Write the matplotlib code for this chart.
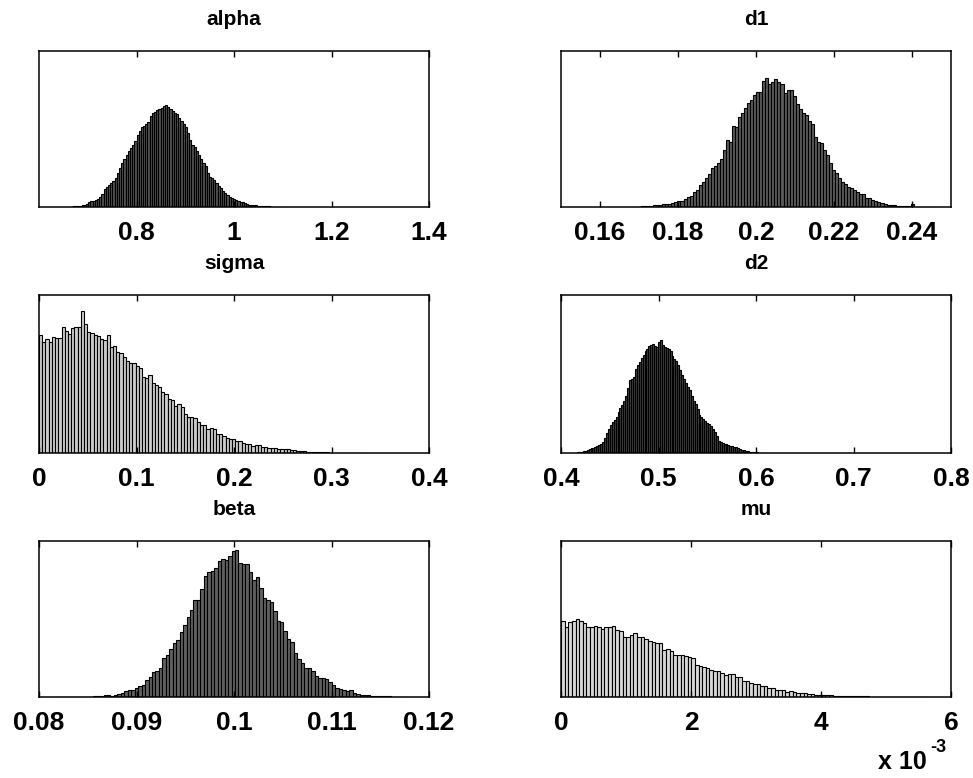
import numpy as np
import matplotlib
matplotlib.use('Agg')
import matplotlib.pyplot as plt

# bar heights, as a fraction of the axes height (100 bins each)
alpha_h = [0.002, 0.004, 0.006, 0.007, 0.009, 0.011, 0.013, 0.02, 0.03, 0.036,
           0.038, 0.043, 0.05, 0.065, 0.085, 0.115, 0.128, 0.14, 0.157, 0.17,
           0.185, 0.22, 0.25, 0.285, 0.305, 0.335, 0.36, 0.38, 0.40, 0.425,
           0.46, 0.49, 0.512, 0.52, 0.53, 0.545, 0.585, 0.604, 0.61, 0.62,
           0.628, 0.633, 0.645, 0.655, 0.642, 0.628, 0.616, 0.605, 0.595, 0.57,
           0.552, 0.535, 0.51, 0.475, 0.43, 0.398, 0.382, 0.36, 0.335, 0.307,
           0.285, 0.265, 0.215, 0.195, 0.183, 0.172, 0.155, 0.137, 0.12, 0.10,
           0.087, 0.076, 0.066, 0.056, 0.051, 0.046, 0.04, 0.035, 0.03, 0.024,
           0.019, 0.016, 0.014, 0.012, 0.01, 0.009, 0.007, 0.006, 0.005, 0.004,
           0.004, 0.003, 0.003, 0.002, 0.002, 0.002, 0.001, 0.001, 0.001, 0.001]
alpha_range = (0.665, 1.115)

d1_h = [0.001, 0.002, 0.002, 0.004, 0.008, 0.008, 0.009, 0.01, 0.013, 0.016,
        0.017, 0.019, 0.02, 0.027, 0.033, 0.04, 0.04, 0.052, 0.062, 0.07,
        0.097, 0.11, 0.141, 0.162, 0.185, 0.21, 0.248, 0.26, 0.28, 0.308,
        0.365, 0.43, 0.42, 0.519, 0.515, 0.575, 0.60, 0.635, 0.664, 0.686,
        0.72, 0.74, 0.74, 0.808, 0.825, 0.79, 0.80, 0.818, 0.80, 0.79,
        0.73, 0.75, 0.75, 0.71, 0.66, 0.63, 0.60, 0.59, 0.55, 0.53,
        0.45, 0.42, 0.41, 0.365, 0.333, 0.28, 0.237, 0.216, 0.184, 0.162,
        0.15, 0.13, 0.12, 0.11, 0.098, 0.081, 0.081, 0.06, 0.056, 0.045,
        0.036, 0.03, 0.024, 0.019, 0.015, 0.011, 0.01, 0.009, 0.008, 0.006,
        0.005, 0.004, 0.02, 0.003, 0.002, 0.002, 0.001, 0.001, 0.001, 0.001]
d1_range = (0.1682, 0.2459)

sigma_h = [0.746, 0.704, 0.72, 0.70, 0.736, 0.73, 0.73, 0.80, 0.77, 0.753,
           0.79, 0.795, 0.80, 0.90, 0.816, 0.764, 0.76, 0.75, 0.74, 0.72,
           0.715, 0.747, 0.673, 0.677, 0.641, 0.63, 0.61, 0.584, 0.571, 0.567,
           0.55, 0.536, 0.483, 0.473, 0.494, 0.441, 0.43, 0.42, 0.388, 0.373,
           0.342, 0.335, 0.297, 0.31, 0.293, 0.247, 0.23, 0.23, 0.22, 0.194,
           0.177, 0.175, 0.152, 0.16, 0.152, 0.12, 0.12, 0.108, 0.093, 0.087,
           0.09, 0.076, 0.076, 0.061, 0.055, 0.055, 0.046, 0.05, 0.05, 0.04,
           0.036, 0.034, 0.032, 0.03, 0.027, 0.027, 0.025, 0.025, 0.019, 0.017,
           0.013, 0.011, 0.010, 0.008, 0.007, 0.006, 0.006, 0.005, 0.004, 0.004,
           0.003, 0.003, 0.002, 0.002, 0.002, 0.001, 0.001, 0.001, 0.001, 0.001]
sigma_range = (0.0, 0.33)

d2_h = [0.003, 0.004, 0.005, 0.007, 0.010, 0.014, 0.018, 0.024, 0.029, 0.034,
        0.039, 0.045, 0.051, 0.06, 0.069, 0.095, 0.125, 0.155, 0.175, 0.195,
        0.212, 0.231, 0.26, 0.284, 0.305, 0.33, 0.36, 0.41, 0.46, 0.47,
        0.48, 0.53, 0.555, 0.574, 0.60, 0.62, 0.645, 0.66, 0.675, 0.683,
        0.688, 0.678, 0.668, 0.70, 0.713, 0.685, 0.672, 0.666, 0.657, 0.645,
        0.615, 0.597, 0.584, 0.56, 0.525, 0.495, 0.47, 0.445, 0.42, 0.397,
        0.36, 0.33, 0.31, 0.28, 0.242, 0.228, 0.216, 0.203, 0.192, 0.183,
        0.17, 0.155, 0.13, 0.105, 0.078, 0.068, 0.063, 0.059, 0.055, 0.051,
        0.047, 0.043, 0.039, 0.035, 0.031, 0.027, 0.022, 0.018, 0.015, 0.012,
        0.009, 0.007, 0.005, 0.004, 0.004, 0.003, 0.003, 0.002, 0.002, 0.001]
d2_range = (0.4144, 0.6123)

beta_h = [0.001, 0.001, 0.001, 0.001, 0.002, 0.002, 0.002, 0.002, 0.003, 0.003,
          0.004, 0.004, 0.006, 0.01, 0.012, 0.009, 0.015, 0.02, 0.027, 0.038,
          0.043, 0.048, 0.055, 0.072, 0.08, 0.11, 0.13, 0.16, 0.165, 0.184,
          0.25, 0.272, 0.31, 0.348, 0.365, 0.415, 0.46, 0.51, 0.56, 0.62,
          0.62, 0.69, 0.775, 0.80, 0.81, 0.825, 0.87, 0.882, 0.88, 0.905,
          0.938, 0.945, 0.86, 0.853, 0.85, 0.80, 0.75, 0.77, 0.697, 0.632,
          0.62, 0.612, 0.55, 0.49, 0.478, 0.42, 0.37, 0.35, 0.285, 0.246,
          0.215, 0.184, 0.186, 0.165, 0.134, 0.124, 0.12, 0.115, 0.098, 0.078,
          0.058, 0.053, 0.047, 0.037, 0.045, 0.028, 0.019, 0.015, 0.012, 0.011,
          0.009, 0.007, 0.005, 0.006, 0.009, 0.004, 0.003, 0.002, 0.002, 0.001]
beta_range = (0.0820, 0.1175)

mu_h = [0.487, 0.447, 0.483, 0.49, 0.50, 0.485, 0.472, 0.45, 0.45, 0.453,
        0.449, 0.438, 0.447, 0.45, 0.455, 0.43, 0.423, 0.387, 0.387, 0.40,
        0.41, 0.382, 0.382, 0.37, 0.362, 0.355, 0.344, 0.344, 0.30, 0.306,
        0.297, 0.269, 0.269, 0.269, 0.265, 0.258, 0.25, 0.205, 0.199, 0.194,
        0.184, 0.173, 0.169, 0.169, 0.152, 0.141, 0.147, 0.147, 0.13, 0.126,
        0.105, 0.103, 0.092, 0.083, 0.081, 0.07, 0.07, 0.06, 0.056, 0.047,
        0.045, 0.045, 0.034, 0.038, 0.034, 0.028, 0.028, 0.024, 0.019, 0.017,
        0.015, 0.013, 0.012, 0.011, 0.01, 0.009, 0.008, 0.007, 0.006, 0.006,
        0.005, 0.005, 0.004, 0.004, 0.004, 0.003, 0.003, 0.003, 0.003, 0.002,
        0.002, 0.002, 0.002, 0.002, 0.002, 0.001, 0.001, 0.001, 0.001, 0.001]
mu_range = (0.0, 0.00557)

titles = ['alpha', 'd1', 'sigma', 'd2', 'beta', 'mu']
heights = [alpha_h, d1_h, sigma_h, d2_h, beta_h, mu_h]
ranges = [alpha_range, d1_range, sigma_range, d2_range, beta_range, mu_range]
xlims = [(0.6, 1.4), (0.15, 0.25), (0, 0.4), (0.4, 0.8), (0.08, 0.12), (0, 0.006)]
xticks = [[0.8, 1.0, 1.2, 1.4],
          [0.16, 0.18, 0.20, 0.22, 0.24],
          [0, 0.1, 0.2, 0.3, 0.4],
          [0.4, 0.5, 0.6, 0.7, 0.8],
          [0.08, 0.09, 0.10, 0.11, 0.12],
          [0, 0.002, 0.004, 0.006]]
xticklabels = [['0.8', '1', '1.2', '1.4'],
               ['0.16', '0.18', '0.2', '0.22', '0.24'],
               ['0', '0.1', '0.2', '0.3', '0.4'],
               ['0.4', '0.5', '0.6', '0.7', '0.8'],
               ['0.08', '0.09', '0.1', '0.11', '0.12'],
               ['0', '2', '4', '6']]
# bar fill per panel, so the dense panels come out as dark as in the original
face = ['#505050', '#5a5a5a', '#cccccc', '#404040', '#606060', '#d8d8d8']

plt.rcParams['font.family'] = ['Liberation Sans', 'DejaVu Sans']
plt.rcParams['font.weight'] = 'bold'

fig = plt.figure(figsize=(9.73, 7.78), dpi=100)

# axes boxes in figure fractions (left, bottom, width, height)
col_x = [0.0401, 0.5766]
row_y = [(0.7339, 0.2005), (0.4177, 0.2031), (0.1041, 0.2005)]

for k in range(6):
    r, c = divmod(k, 2)
    ax = fig.add_axes([col_x[c], row_y[r][0], 0.4008, row_y[r][1]])
    h = np.array(heights[k])
    edges = np.linspace(ranges[k][0], ranges[k][1], len(h) + 1)
    ax.bar(edges[:-1], h, width=np.diff(edges), align='edge',
           facecolor=face[k], edgecolor='black', linewidth=0.8)
    ax.set_xlim(*xlims[k])
    ax.set_ylim(0, 1)
    ax.set_yticks([])
    ax.set_xticks(xticks[k])
    ax.set_xticklabels(xticklabels[k], fontsize=19, fontweight='bold')
    ax.tick_params(axis='x', direction='in', length=4, width=1, top=True,
                   pad=10, colors='black')
    for s in ax.spines.values():
        s.set_linewidth(1.1)
    ax.set_title(titles[k], fontsize=15, fontweight='bold', pad=19)

# exponent label for the mu axis
fig.text(0.902, 0.005, 'x 10', fontsize=18, fontweight='bold', ha='left', va='bottom')
fig.text(0.956, 0.028, '-3', fontsize=13, fontweight='bold', ha='left', va='bottom')

fig.savefig('out.png', dpi=100)
